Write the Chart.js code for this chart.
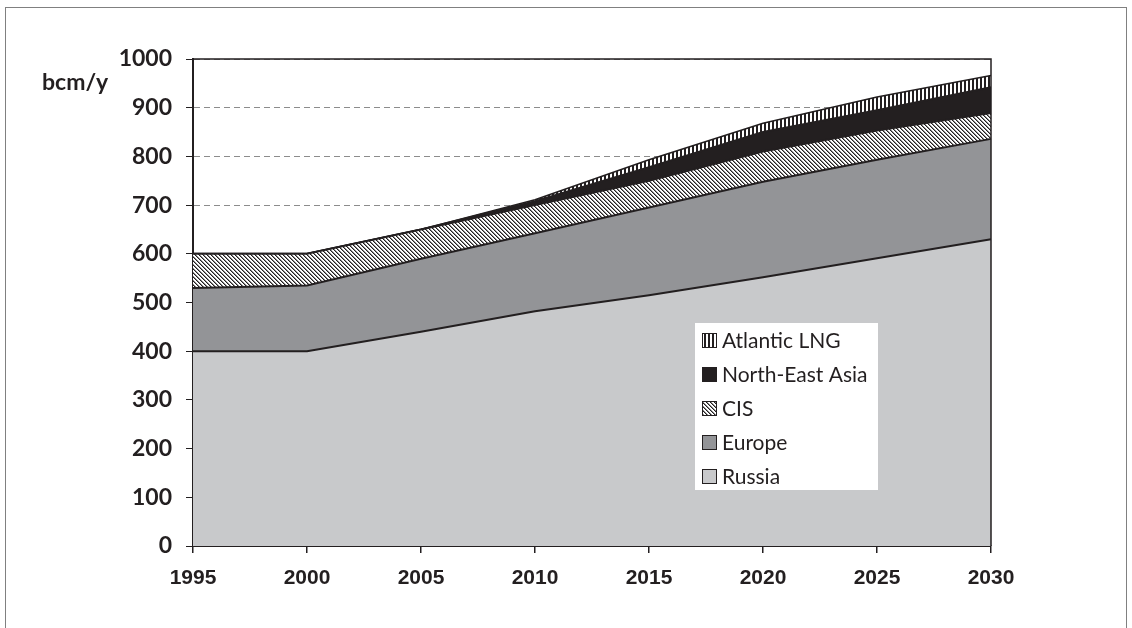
<!DOCTYPE html>
<html>
<head>
<meta charset="utf-8">
<script src="https://cdn.jsdelivr.net/npm/chart.js@4"></script>
<style>
  html, body { margin: 0; padding: 0; background: #fff; }
  #wrap { position: relative; width: 1132px; height: 628px; }
</style>
</head>
<body>
<div id="wrap"><canvas id="gas" width="1132" height="628"></canvas></div>
<script>
const years = ['1995', '2000', '2005', '2010', '2015', '2020', '2025', '2030'];
const russia = [400, 400, 440, 482, 515, 552, 591, 630];
const europe = [130, 135, 150, 160, 180, 196, 202, 206];
const cis = [70, 65, 60, 58, 55, 62, 60, 53];
const northEastAsia = [0, 0, 0, 8, 28, 40, 42, 53];
const atlanticLng = [0, 0, 0, 3, 15, 18, 27, 24];
const yTicks = [0, 100, 200, 300, 400, 500, 600, 700, 800, 900, 1000];

const ink = '#231f20';

// hatch "\\\" for CIS
function makeHatch() {
  const c = document.createElement('canvas');
  c.width = 4; c.height = 4;
  const g = c.getContext('2d');
  g.fillStyle = '#fff';
  g.fillRect(0, 0, 4, 4);
  g.fillStyle = ink;
  for (let y = 0; y < 4; y++) {
    for (let x = 0; x < 4; x++) {
      const d = ((x - y) % 4 + 4) % 4;
      if (d === 0) g.fillRect(x, y, 1, 1);
      if (d === 1) { g.fillStyle = '#8a8a8a'; g.fillRect(x, y, 1, 1); g.fillStyle = ink; }
    }
  }
  return g.createPattern(c, 'repeat');
}

// vertical stripes for Atlantic LNG
function makeStripes() {
  const c = document.createElement('canvas');
  c.width = 4; c.height = 4;
  const g = c.getContext('2d');
  g.fillStyle = '#fff';
  g.fillRect(0, 0, 4, 4);
  g.fillStyle = ink;
  g.fillRect(0, 0, 2, 4);
  return g.createPattern(c, 'repeat');
}

const hatch = makeHatch();
const stripes = makeStripes();

const frame = {
  id: 'frame',
  beforeDraw(chart) {
    const { ctx } = chart;
    ctx.save();
    ctx.fillStyle = '#fff';
    ctx.fillRect(0, 0, chart.width, chart.height);
    ctx.strokeStyle = '#808080';
    ctx.lineWidth = 1;
    ctx.strokeRect(5.5, 7.5, 1121, 640);
    ctx.restore();
  },
  afterDraw(chart) {
    const { ctx, chartArea: a } = chart;
    ctx.save();
    ctx.strokeStyle = ink;
    ctx.lineWidth = 1.5;
    ctx.beginPath();
    ctx.moveTo(a.left, a.top);
    ctx.lineTo(a.right, a.top);
    ctx.lineTo(a.right, a.bottom);
    ctx.stroke();

    ctx.fillStyle = ink;
    ctx.font = 'bold 23px Lato, "Liberation Sans", sans-serif';
    ctx.textAlign = 'left';
    ctx.textBaseline = 'middle';
    ctx.fillText('bcm/y', 42, 83);

    // legend, top entry first
    const bx = 695, by = 323, bw = 183, bh = 167;
    ctx.fillStyle = '#fff';
    ctx.fillRect(bx, by, bw, bh);
    const sets = chart.data.datasets.slice().reverse();
    ctx.font = '21px Lato, "Liberation Sans", sans-serif';
    sets.forEach((ds, i) => {
      const cy = 340 + i * 34;
      ctx.fillStyle = ds.backgroundColor;
      ctx.fillRect(702, cy - 7, 15, 15);
      ctx.strokeStyle = ink;
      ctx.lineWidth = 1;
      ctx.strokeRect(702.5, cy - 6.5, 14, 14);
      ctx.fillStyle = ink;
      ctx.fillText(ds.label, 722, cy + 1);
    });
    ctx.restore();
  }
};

const lineOpts = { borderColor: ink, borderWidth: 2, pointRadius: 0, tension: 0 };

new Chart(document.getElementById('gas'), {
  type: 'line',
  data: {
    labels: years,
    datasets: [
      { label: 'Russia', data: russia, backgroundColor: '#c8c9cb', fill: 'origin', ...lineOpts },
      { label: 'Europe', data: europe, backgroundColor: '#939497', fill: '-1', ...lineOpts },
      { label: 'CIS', data: cis, backgroundColor: hatch, fill: '-1', ...lineOpts },
      { label: 'North-East Asia', data: northEastAsia, backgroundColor: ink, fill: '-1', ...lineOpts },
      { label: 'Atlantic LNG', data: atlanticLng, backgroundColor: stripes, fill: '-1', ...lineOpts, borderWidth: 1.5 }
    ]
  },
  options: {
    responsive: false,
    animation: false,
    devicePixelRatio: 1,
    layout: { padding: { left: 0, top: 59, right: 141, bottom: 0 } },
    plugins: { legend: { display: false }, tooltip: { enabled: false } },
    scales: {
      x: {
        offset: false,
        grid: { drawOnChartArea: false, drawTicks: true, tickLength: 7, color: ink, lineWidth: 1.5 },
        border: { color: ink, width: 2 },
        ticks: {
          color: ink,
          padding: 13,
          maxRotation: 0,
          autoSkip: false,
          font: { family: '"Liberation Sans Narrow", "Liberation Sans", sans-serif', size: 21, weight: 'bold' }
        },
        afterFit(s) { s.height = 82; }
      },
      y: {
        stacked: true,
        min: 0,
        max: 1000,
        afterBuildTicks(s) { s.ticks = yTicks.map(v => ({ value: v })); },
        grid: { color: '#8c8c8c', lineWidth: 1, tickColor: ink, tickLength: 7, tickBorderDash: [] },
        border: { color: ink, width: 2, dash: [6, 4] },
        ticks: {
          color: ink,
          padding: 14,
          callback: v => String(v),
          font: { family: 'Lato, "Liberation Sans", sans-serif', size: 23, weight: 'bold' }
        },
        afterFit(s) { s.width = 193; }
      }
    }
  },
  plugins: [frame]
});
</script>
</body>
</html>
